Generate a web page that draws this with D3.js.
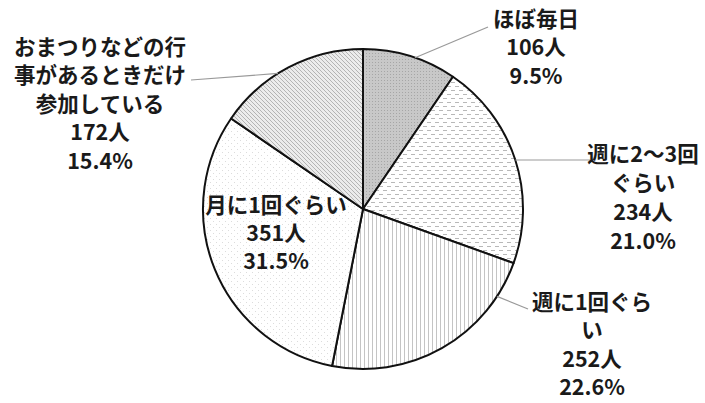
<!DOCTYPE html>
<html><head><meta charset="utf-8">
<script src="https://cdn.jsdelivr.net/npm/d3@7"></script>
<style>body{margin:0;background:#fff}svg{display:block}</style>
</head><body>
<script>
const categories = ["ほぼ毎日","週に2〜3回ぐらい","週に1回ぐらい","月に1回ぐらい","おまつりなどの行事があるときだけ参加している"];
const counts = [106, 234, 252, 351, 172];
const percents = ["9.5%","21.0%","22.6%","31.5%","15.4%"];
const labelLines = [
  ["ほぼ毎日"],
  ["週に2〜3回","ぐらい"],
  ["週に1回ぐら","い"],
  ["月に1回ぐらい"],
  ["おまつりなどの行","事があるときだけ","参加している"]
];

const W=705,H=403, cx=363, cy=209, R=160;
const svg=d3.select("body").append("svg").attr("width",W).attr("height",H);
const defs=svg.append("defs");
// patterns
let p=defs.append("pattern").attr("id","p0").attr("patternUnits","userSpaceOnUse").attr("width",3).attr("height",3);
p.append("rect").attr("width",3).attr("height",3).attr("fill","#c8c8c8");
p.append("rect").attr("width",1).attr("height",1).attr("fill","#a6a6a6");
p=defs.append("pattern").attr("id","p1").attr("patternUnits","userSpaceOnUse").attr("width",8).attr("height",8);
p.append("rect").attr("width",8).attr("height",8).attr("fill","#fff");
p.append("rect").attr("x",0).attr("y",1).attr("width",4).attr("height",1).attr("fill","#b8b8b8");
p.append("rect").attr("x",4).attr("y",5).attr("width",4).attr("height",1).attr("fill","#b8b8b8");
p=defs.append("pattern").attr("id","p2").attr("patternUnits","userSpaceOnUse").attr("width",4).attr("height",4);
p.append("rect").attr("width",4).attr("height",4).attr("fill","#fff");
p.append("rect").attr("x",1).attr("width",1).attr("height",4).attr("fill","#c4c4c4");
p=defs.append("pattern").attr("id","p3").attr("patternUnits","userSpaceOnUse").attr("width",6).attr("height",6);
p.append("rect").attr("width",6).attr("height",6).attr("fill","#fff");
p.append("rect").attr("width",1).attr("height",1).attr("fill","#dcdcdc");
p.append("rect").attr("x",3).attr("y",3).attr("width",1).attr("height",1).attr("fill","#dcdcdc");
p=defs.append("pattern").attr("id","p4").attr("patternUnits","userSpaceOnUse").attr("width",4).attr("height",4);
p.append("rect").attr("width",4).attr("height",4).attr("fill","#ececec");
p.append("path").attr("d","M-1,-1L5,5M-1,3L1,5M3,-1L5,1").attr("stroke","#b4b4b4").attr("stroke-width",1);

const pie=d3.pie().sort(null).value(d=>d);
const arcs=pie(counts);
const arc=d3.arc().innerRadius(0).outerRadius(R);
const g=svg.append("g").attr("transform",`translate(${cx},${cy})`);
g.selectAll("path").data(arcs).enter().append("path")
  .attr("d",arc).attr("fill",(d,i)=>`url(#p${i})`)
  .attr("stroke","#111").attr("stroke-width",2).attr("stroke-linejoin","round");

function edgePoint(angle){return [cx+R*Math.sin(angle), cy-R*Math.cos(angle)];}
function edgeAtY(y,side){const dy=y-cy;const dx=Math.sqrt(R*R-dy*dy);return [cx+side*dx,y];}
const leaderPts=[
  [edgePoint(Math.asin((415-cx)/R)), [488,27]],
  [edgeAtY(160,1), [590,160]],
  [edgePoint(Math.PI-Math.asin((497-cx)/R)), [528,309]],
  [edgePoint(2*Math.PI+Math.asin((278-cx)/R)), [191,80]]
];
svg.selectAll("line.lead").data(leaderPts).enter().append("line")
  .attr("x1",d=>d[0][0]).attr("y1",d=>d[0][1]).attr("x2",d=>d[1][0]).attr("y2",d=>d[1][1])
  .attr("stroke","#999").attr("stroke-width",1.2);

// labels
const labelPos=[[536,19],[643,154],[592,302],[276,205],[100,47]];
const lh=[28.5,29,28.5,28,28.5];
labelLines.forEach((lines,i)=>{
  const all=lines.concat([counts[i]+"人", percents[i]]);
  const t=svg.append("text").attr("text-anchor","middle")
    .attr("font-family","'Noto Sans CJK JP', sans-serif").attr("font-weight",700)
    .attr("font-size",21.5).attr("fill","#1a1a1a");
  all.forEach((s,k)=>{
    t.append("tspan").attr("x",labelPos[i][0]).attr("y",labelPos[i][1]+k*lh[i]).attr("dy","0.36em").text(s);
  });
});
</script>
</body></html>
